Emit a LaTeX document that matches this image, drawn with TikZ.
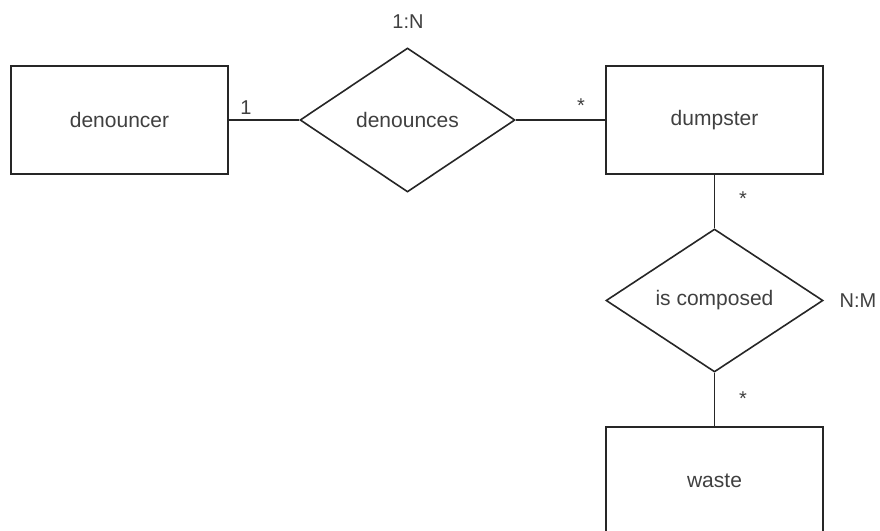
\documentclass[tikz,border=0pt]{standalone}
\usepackage{fontspec}
\setmainfont{Liberation Sans}
\usetikzlibrary{shapes.geometric}
\begin{document}
\begin{tikzpicture}[x=1pt,y=-1pt,
  entity/.style={draw=black!85,line width=1.6pt,minimum width=217pt,minimum height=108pt,inner sep=0pt,text=black!75,font=\fontsize{21}{24}\selectfont},
  relation/.style={draw=black!85,line width=1.6pt,diamond,aspect=1.5,inner sep=0pt,text=black!75,font=\fontsize{21}{24}\selectfont},
  link/.style={draw=black!85,line width=1.6pt},
  card/.style={text=black!75,font=\fontsize{20}{24}\selectfont,inner sep=0pt}]
\clip (0,0) rectangle (880,530);
\useasboundingbox (0,0) rectangle (880,530);
\fill[white] (0,0) rectangle (880,530);
% entities
\node[entity] (denouncer) at (119.5,120) {denouncer};
\node[entity] (dumpster) at (714.5,120) {dumpster};
\node[entity] (waste) at (714.5,481) {waste};
% relationships
\node[relation,minimum width=215pt,minimum height=144pt] (denounces) at (407.5,120) {denounces};
\node[relation,minimum width=217pt,minimum height=143pt] (composed) at (714.5,300.5) {is composed};
% connectors
\draw[link] (denouncer.east) -- (denounces.west);
\draw[link] (denounces.east) -- (dumpster.west);
\draw[link] (dumpster.south) -- (composed.north);
\draw[link] (composed.south) -- (waste.north);
% cardinalities
\node[card] (c1) at (246,108) {1};
\node[card] (c2) at (581,106) {*};
\node[card] (c3) at (743,199) {*};
\node[card] (c4) at (743,399) {*};
\node[card] (r1) at (408,22) {1:N};
\node[card] (r2) at (858,301) {N:M};
\end{tikzpicture}
\end{document}
